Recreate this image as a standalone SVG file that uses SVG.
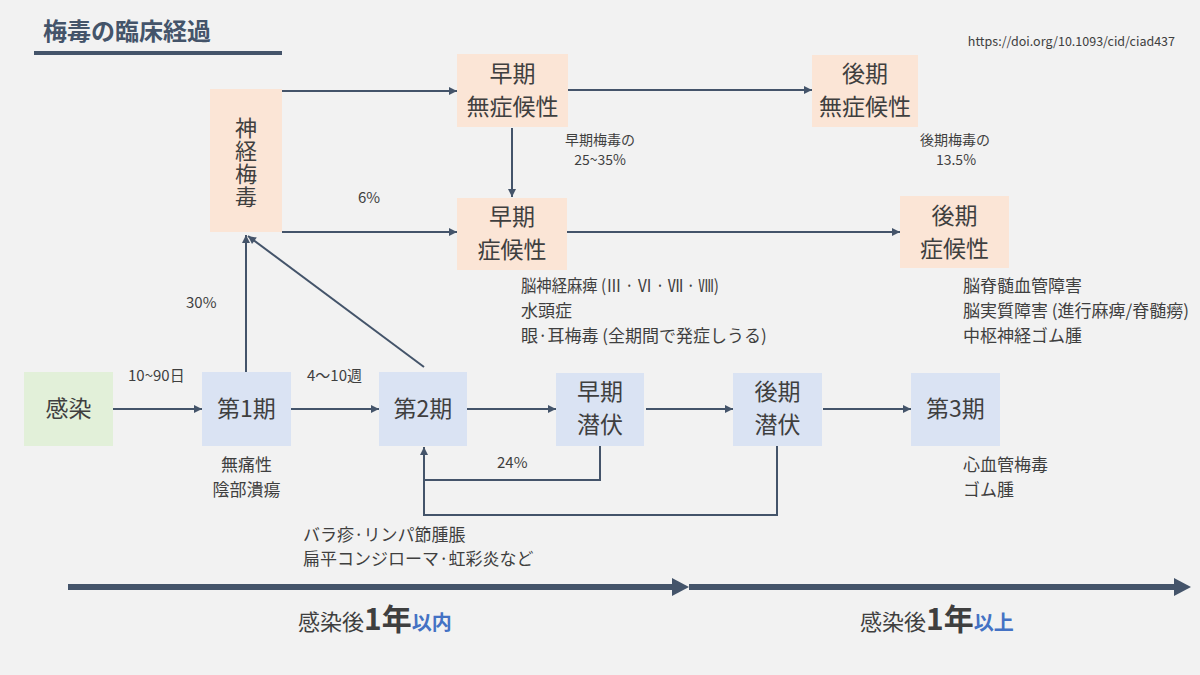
<svg xmlns="http://www.w3.org/2000/svg" width="1200" height="675" viewBox="0 0 1200 675">
<style>
text{font-family:"Noto Sans CJK JP","Noto Sans",sans-serif;fill:#3f3f3f}
.bx{font-size:23px;text-anchor:middle}
.lb{font-size:15px}
.sm{font-size:14px;text-anchor:middle}
.nt{font-size:17px}
.pk{fill:#fbe5d6}
.bl{fill:#dae3f3}
.gr{fill:#e2f0d9}
.cn line,.cn polyline{stroke:#44546a;stroke-width:2;fill:none}
</style>
<defs>
<marker id="ah" viewBox="0 0 10 10" refX="10" refY="5" markerWidth="9" markerHeight="8" markerUnits="userSpaceOnUse" orient="auto"><path d="M0,0 L10,5 L0,10 z" fill="#44546a"/></marker>
</defs>
<rect width="1200" height="675" fill="#f2f2f2"/>

<g id="title">
<text x="43" y="40" style="font-size:24px;font-weight:bold;fill:#44546a">梅毒の臨床経過</text>
<rect x="34" y="51" width="248" height="4" fill="#44546a"/>
</g>
<text x="1175" y="46" style="font-size:12.5px;text-anchor:end;fill:#404040">https://doi.org/10.1093/cid/ciad437</text>

<g class="cn" id="connectors">
<line x1="113" y1="409" x2="202" y2="409" marker-end="url(#ah)"/>
<line x1="291" y1="409" x2="379" y2="409" marker-end="url(#ah)"/>
<line x1="467" y1="409" x2="556" y2="409" marker-end="url(#ah)"/>
<line x1="646" y1="409" x2="733" y2="409" marker-end="url(#ah)"/>
<line x1="823" y1="409" x2="911" y2="409" marker-end="url(#ah)"/>
<line x1="246" y1="372" x2="246" y2="235" marker-end="url(#ah)"/>
<line x1="424" y1="367" x2="248" y2="236" marker-end="url(#ah)"/>
<line x1="282" y1="91" x2="457" y2="91" marker-end="url(#ah)"/>
<line x1="282" y1="232" x2="457" y2="232" marker-end="url(#ah)"/>
<line x1="568" y1="90" x2="812" y2="90" marker-end="url(#ah)"/>
<line x1="512" y1="128" x2="512" y2="197" marker-end="url(#ah)"/>
<line x1="567" y1="232" x2="900" y2="232" marker-end="url(#ah)"/>
<polyline points="600,446 600,480 424,480"/>
<polyline points="777,446 777,515 424,515 424,447" marker-end="url(#ah)"/>
</g>

<g id="n-infect"><rect class="gr" x="24" y="372" width="89" height="74"/><text class="bx" x="68.5" y="417">感染</text></g>
<g id="n-p1"><rect class="bl" x="202" y="372" width="89" height="74"/><text class="bx" x="246.5" y="417">第1期</text></g>
<g id="n-p2"><rect class="bl" x="379" y="372" width="88" height="74"/><text class="bx" x="423" y="417">第2期</text></g>
<g id="n-el"><rect class="bl" x="556" y="373" width="88" height="73"/><text class="bx" x="600" y="400">早期</text><text class="bx" x="600" y="433">潜伏</text></g>
<g id="n-ll"><rect class="bl" x="733" y="373" width="89" height="73"/><text class="bx" x="777.5" y="400">後期</text><text class="bx" x="777.5" y="433">潜伏</text></g>
<g id="n-p3"><rect class="bl" x="911" y="373" width="89" height="73"/><text class="bx" x="955.5" y="417">第3期</text></g>

<g id="n-neuro"><rect class="pk" x="210" y="89" width="72" height="143"/>
<text x="246" y="117" style="font-size:22px;writing-mode:vertical-rl;letter-spacing:1px">神経梅毒</text></g>
<g id="n-eas"><rect class="pk" x="457" y="54" width="111" height="73"/><text class="bx" x="512.5" y="82">早期</text><text class="bx" x="512.5" y="115">無症候性</text></g>
<g id="n-es"><rect class="pk" x="457" y="198" width="110" height="72"/><text class="bx" x="512" y="225">早期</text><text class="bx" x="512" y="258">症候性</text></g>
<g id="n-las"><rect class="pk" x="812" y="55" width="106" height="72"/><text class="bx" x="865" y="82">後期</text><text class="bx" x="865" y="115">無症候性</text></g>
<g id="n-ls"><rect class="pk" x="900" y="196" width="109" height="72"/><text class="bx" x="954.5" y="224">後期</text><text class="bx" x="954.5" y="257">症候性</text></g>

<g id="labels">
<text class="lb" x="128" y="381">10~90日</text>
<text class="lb" x="307" y="381">4～10週</text>
<text class="lb" x="186" y="308">30%</text>
<text class="lb" x="358" y="203">6%</text>
<text class="lb" x="497" y="468">24%</text>
<text class="sm" x="600" y="145">早期梅毒の</text>
<text class="sm" x="600" y="165">25~35%</text>
<text class="sm" x="955" y="145">後期梅毒の</text>
<text class="sm" x="956" y="165">13.5%</text>
<text class="nt" x="246.5" y="471" text-anchor="middle">無痛性</text>
<text class="nt" x="246.5" y="496" text-anchor="middle">陰部潰瘍</text>
<text class="nt" x="303" y="541">バラ疹·リンパ節腫脹</text>
<text class="nt" x="303" y="565">扁平コンジローマ·虹彩炎など</text>
<text class="nt" x="521" y="292" textLength="198" lengthAdjust="spacingAndGlyphs">脳神経麻痺 (Ⅲ · Ⅵ · Ⅶ · Ⅷ)</text>
<text class="nt" x="521" y="317">水頭症</text>
<text class="nt" x="521" y="342">眼·耳梅毒 (全期間で発症しうる)</text>
<text class="nt" x="963" y="292">脳脊髄血管障害</text>
<text class="nt" x="963" y="317">脳実質障害 (進行麻痺/脊髄癆)</text>
<text class="nt" x="963" y="342">中枢神経ゴム腫</text>
<text class="nt" x="963" y="471">心血管梅毒</text>
<text class="nt" x="963" y="496">ゴム腫</text>
</g>

<g id="timeline">
<rect x="68" y="584" width="606" height="6" fill="#44546a"/>
<polygon points="672,578 689,587 672,596" fill="#44546a"/>
<rect x="689" y="584" width="487" height="6" fill="#44546a"/>
<polygon points="1174,578 1191,587 1174,596" fill="#44546a"/>
<text x="298" y="630"><tspan style="font-size:22px">感染後</tspan><tspan style="font-size:30px;font-weight:bold">1年</tspan><tspan style="font-size:20px;font-weight:bold;fill:#4472c4">以内</tspan></text>
<text x="860" y="630"><tspan style="font-size:22px">感染後</tspan><tspan style="font-size:30px;font-weight:bold">1年</tspan><tspan style="font-size:20px;font-weight:bold;fill:#4472c4">以上</tspan></text>
</g>
</svg>
